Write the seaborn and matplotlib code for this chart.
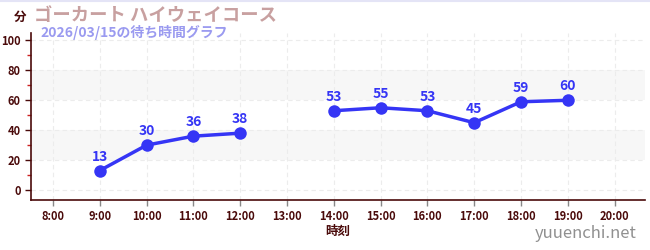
import matplotlib
matplotlib.use("Agg")
import matplotlib.pyplot as plt
import seaborn as sns
import numpy as np
import pandas as pd
from matplotlib.ticker import MultipleLocator

hours = [9, 10, 11, 12, 14, 15, 16, 17, 18, 19]
waits = [13, 30, 36, 38, 53, 55, 53, 45, 59, 60]
segments = [0, 0, 0, 0, 1, 1, 1, 1, 1, 1]
xtick_hours = list(range(8, 21))
xtick_labels = [f"{h}:00" for h in xtick_hours]
yticks = [0, 20, 40, 60, 80, 100]
title = "ゴーカート ハイウェイコース"
subtitle = "2026/03/15の待ち時間グラフ"

sns.set_theme(style="white")
plt.rcParams['font.family'] = ['Noto Sans CJK JP', 'DejaVu Sans']

df = pd.DataFrame({"hour": hours, "wait": waits, "seg": segments})

fig = plt.figure(figsize=(6.5, 2.5), dpi=100)
ax = fig.add_axes([31/650, 1-200/250, 614/650, 167/250])

dark = "#4a0a0a"
blue = "#3535f5"

fig.add_artist(plt.Line2D([0, 1], [1-0.6/250, 1-0.6/250], color="#e4e4f6",
                          lw=1.5, transform=fig.transFigure))

for lo, hi in [(20, 40), (60, 80)]:
    ax.axhspan(lo, hi, color="#f7f7f7", zorder=0, lw=0)

sns.lineplot(data=df, x="hour", y="wait", units="seg", estimator=None,
             color=blue, lw=2.5, marker="o", markersize=9,
             markeredgewidth=0, ax=ax, zorder=3)

for h, w in zip(hours, waits):
    ax.annotate(str(w), (h, w), xytext=(0, 5), textcoords="offset points",
                ha="center", va="bottom", color=blue, fontsize=10,
                fontweight="bold", zorder=4)

ax.set_xlim(7.53, 20.65)
ax.set_ylim(-6.7, 105)
ax.set_xticks(xtick_hours)
ax.set_xticklabels(xtick_labels)
ax.set_yticks(yticks)
ax.yaxis.set_minor_locator(MultipleLocator(10))
ax.grid(True, which="major", color="#ececec", ls=(0, (4, 3)), lw=0.8)
ax.set_axisbelow(True)

for s in ["top", "right"]:
    ax.spines[s].set_visible(False)
for s in ["left", "bottom"]:
    ax.spines[s].set_color(dark)
    ax.spines[s].set_linewidth(1.2)

ax.tick_params(axis="both", which="major", colors=dark, labelsize=8,
               length=4, width=1, direction="out", left=True, bottom=True)
ax.tick_params(axis="x", which="major", color="#888888")
ax.tick_params(axis="y", which="minor", colors="#cc2222", length=3,
               width=1, left=True)
for lab in ax.get_xticklabels() + ax.get_yticklabels():
    lab.set_fontweight("bold")
ax.set_xlabel("時刻", color=dark, fontsize=9, fontweight="bold", labelpad=1)
ax.set_ylabel("")

fig.text(20/650, 1-17/250, "分", color=dark, fontsize=9, fontweight="bold",
         ha="center", va="center")
fig.text(34/650, 1-15/250, title, color="#c8a0a0", fontsize=13.2,
         fontweight="bold", ha="left", va="center")
fig.text(40/650, 1-32/250, subtitle, color="#9a9af0", fontsize=10,
         fontweight="bold", ha="left", va="center")
fig.text(637/650, 1-234/250, "yuuenchi.net", color="#909090", fontsize=12,
         ha="right", va="center")

fig.savefig("out.png", dpi=100)
